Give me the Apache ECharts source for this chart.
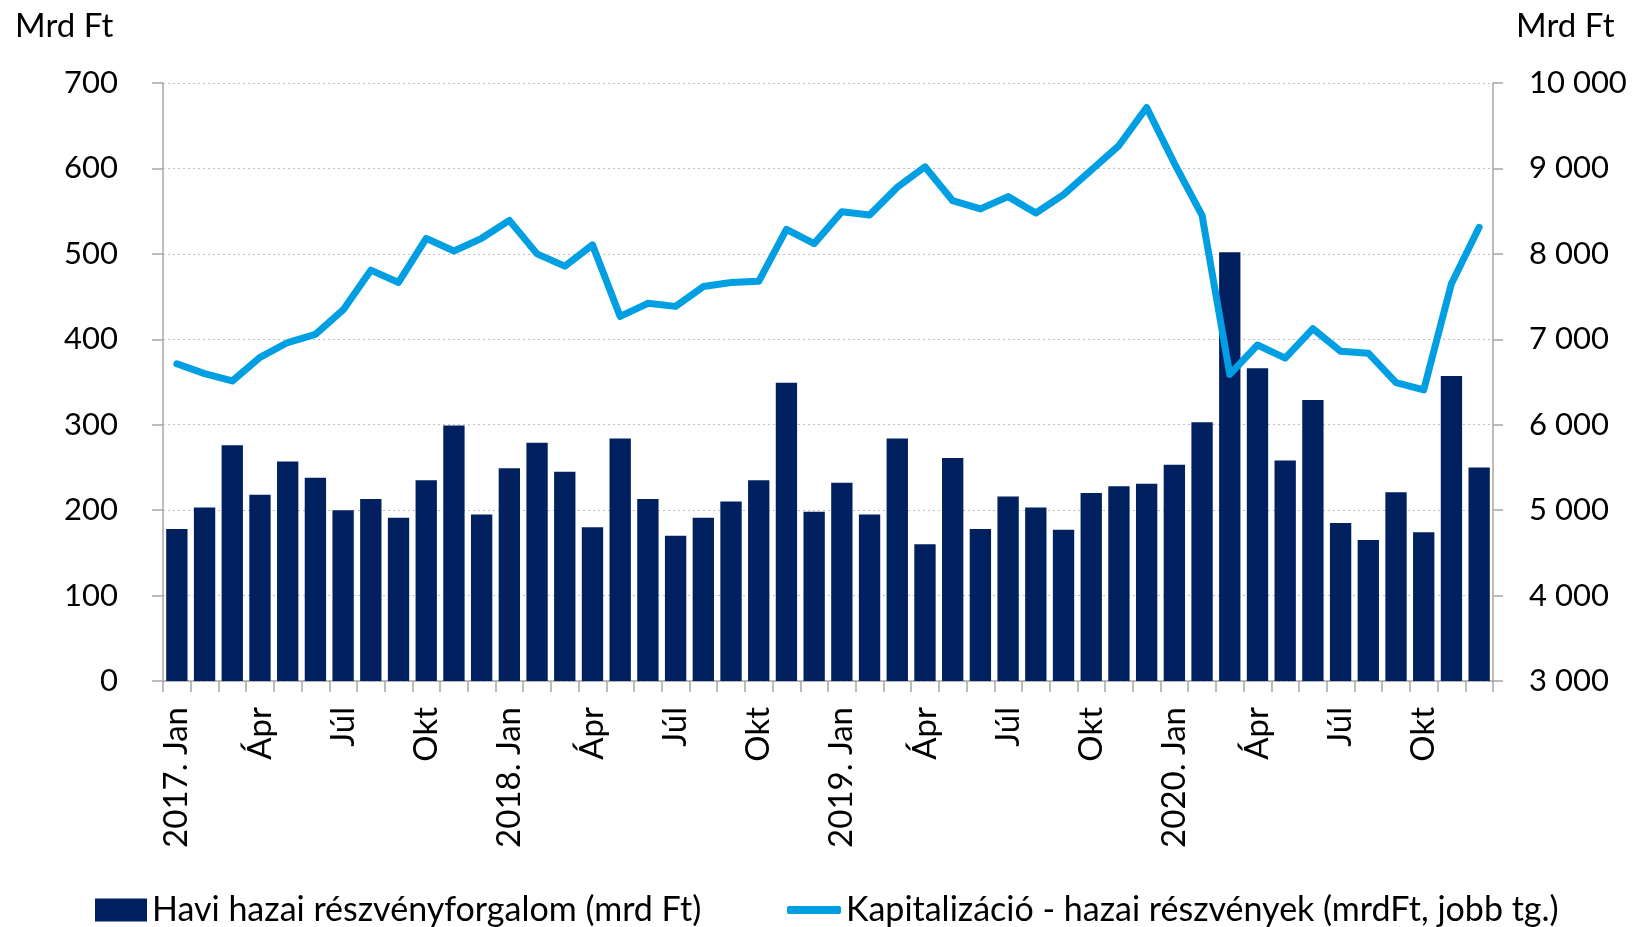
<!DOCTYPE html>
<html>
<head>
<meta charset="utf-8">
<script src="https://cdn.jsdelivr.net/npm/echarts@6/dist/echarts.min.js"></script>
<style>
html,body{margin:0;padding:0;background:#fff;}
#main{width:1635px;height:927px;}
</style>
</head>
<body>
<div id="main"></div>
<script>
const years = ['2017', '2018', '2019', '2020'];
const months = ['Jan', 'Feb', 'Már', 'Ápr', 'Máj', 'Jún', 'Júl', 'Aug', 'Szep', 'Okt', 'Nov', 'Dec'];
const categories = [];
years.forEach(y => months.forEach((m, i) => categories.push(i === 0 ? y + '. ' + m : m)));

const turnover = [178, 203, 276, 218, 257, 238, 200, 213, 191, 235, 299, 195,
                  249, 279, 245, 180, 284, 213, 170, 191, 210, 235, 349, 198,
                  232, 195, 284, 160, 261, 178, 216, 203, 177, 220, 228, 231,
                  253, 303, 502, 366, 258, 329, 185, 165, 221, 174, 357, 250];
const capitalization = [6713, 6598, 6512, 6789, 6962, 7057, 7344, 7809, 7665, 8182, 8033, 8182,
                        8392, 8000, 7856, 8105, 7268, 7421, 7385, 7617, 7665, 7679, 8287, 8120,
                        8493, 8455, 8780, 9019, 8622, 8526, 8670, 8478, 8694, 8981, 9268, 9713,
                        9060, 8450, 6589, 6933, 6780, 7124, 6861, 6837, 6493, 6407, 7651, 8311];

const barName = 'Havi hazai részvényforgalom (mrd Ft)';
const lineName = 'Kapitalizáció - hazai részvények (mrdFt, jobb tg.)';
const unitLabel = 'Mrd Ft';

const FONT = 'Lato';
const FS = 31;
const AXIS_COLOR = '#A6A6A6';

function fmtThousands(v) {
  return String(v).replace(/\B(?=(\d{3})+(?!\d))/g, ' ');
}

const chart = echarts.init(document.getElementById('main'), null, {renderer: 'canvas'});
chart.setOption({
  animation: false,
  backgroundColor: '#fff',
  textStyle: {fontFamily: FONT, color: '#000'},
  grid: {left: 163, right: 142, top: 83, bottom: 246, containLabel: false},
  graphic: [
    {type: 'text', left: 15, top: 10, style: {text: unitLabel, font: '33px ' + FONT, fill: '#000'}},
    {type: 'text', left: 1516, top: 10, style: {text: unitLabel, font: '33px ' + FONT, fill: '#000'}}
  ],
  legend: [
    {
      data: [{name: barName, icon: 'rect'}],
      left: 90, top: 888, itemWidth: 52, itemHeight: 23,
      textStyle: {fontFamily: FONT, fontSize: 34, color: '#000'},
      selectedMode: false
    },
    {
      data: [{name: lineName, icon: 'roundRect'}],
      left: 782, top: 888, itemWidth: 54, itemHeight: 8,
      textStyle: {fontFamily: FONT, fontSize: 34, color: '#000'},
      selectedMode: false
    }
  ],
  xAxis: {
    type: 'category',
    data: categories,
    boundaryGap: true,
    axisLine: {lineStyle: {color: AXIS_COLOR, width: 1.5}},
    axisTick: {show: true, interval: 0, length: 11, lineStyle: {color: AXIS_COLOR, width: 1.5}},
    axisLabel: {interval: 2, rotate: 90, margin: 26, fontFamily: FONT, fontSize: 33, color: '#000'}
  },
  yAxis: [
    {
      type: 'value', min: 0, max: 700, interval: 100,
      axisLine: {show: true, lineStyle: {color: AXIS_COLOR, width: 1.5}},
      axisTick: {show: true, length: 11, lineStyle: {color: AXIS_COLOR, width: 1.5}},
      axisLabel: {margin: 45, fontFamily: FONT, fontSize: FS, color: '#000'},
      splitLine: {show: true, lineStyle: {color: '#BFBFBF', type: [2, 3], width: 1}}
    },
    {
      type: 'value', min: 3000, max: 10000, interval: 1000,
      axisLine: {show: true, lineStyle: {color: AXIS_COLOR, width: 1.5}},
      axisTick: {show: true, length: 10, lineStyle: {color: AXIS_COLOR, width: 1.5}},
      axisLabel: {margin: 36, fontFamily: FONT, fontSize: FS, color: '#000', formatter: fmtThousands},
      splitLine: {show: false}
    }
  ],
  series: [
    {
      name: barName, type: 'bar', data: turnover, yAxisIndex: 0,
      barCategoryGap: '23%',
      itemStyle: {color: '#00205F'}
    },
    {
      name: lineName, type: 'line', data: capitalization, yAxisIndex: 1,
      symbol: 'none', smooth: false,
      itemStyle: {color: '#009FE3'},
      lineStyle: {color: '#009FE3', width: 7, cap: 'round', join: 'round'}
    }
  ]
});
</script>
</body>
</html>
